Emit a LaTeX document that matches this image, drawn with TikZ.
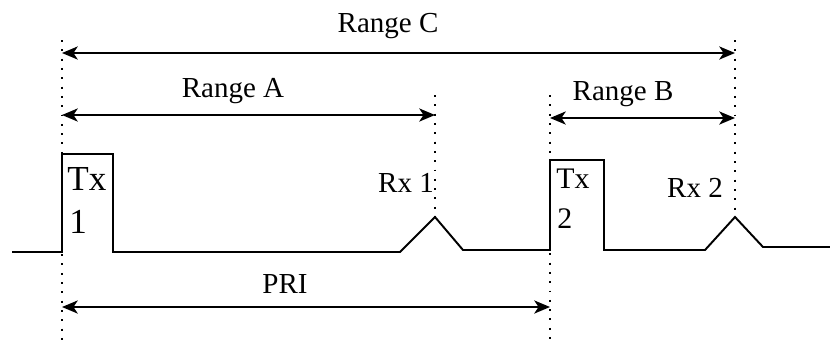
\documentclass[tikz,border=0pt]{standalone}
\usepackage{fontspec}
\setmainfont{Liberation Serif}
\usetikzlibrary{arrows.meta}

\tikzset{
  pulse/.style={line width=1.1pt, line join=miter},
  guide/.style={line width=1.1pt, dash pattern=on 1.1pt off 4.2pt},
  span/.style={line width=1.1pt,
    {Stealth[length=9pt,width=7.5pt,inset=2.5pt]}-{Stealth[length=9pt,width=7.5pt,inset=2.5pt]}},
  lbl/.style={font=\fontsize{16.5}{18}\selectfont, inner sep=0pt, anchor=base},
  txlbl/.style={font=\fontsize{20}{22}\selectfont, inner sep=0pt, anchor=base west}
}

\begin{document}
\begin{tikzpicture}[x=0.02cm,y=-0.02cm]
\useasboundingbox (0,0) rectangle (830,343);

% linhas de referencia
\coordinate (tx1top) at (62,40);   \coordinate (tx1bot) at (62,340);
\coordinate (rx1top) at (435,95);  \coordinate (rx1bot) at (435,217);
\coordinate (tx2top) at (550,95);  \coordinate (tx2bot) at (550,340);
\coordinate (rx2top) at (735,40);  \coordinate (rx2bot) at (735,217);
\foreach \g in {tx1,rx1,tx2,rx2}
{
    \draw[guide] (\g top) -- (\g bot);
}

% sinal
\draw[pulse] (12,252) -- (62,252) -- (62,154) -- (113,154) -- (113,252)
  -- (400,252) -- (435,217) -- (463,250) -- (550,250) -- (550,160)
  -- (604,160) -- (604,250) -- (705,250) -- (735,217) -- (763,247) -- (830,247);

% Range C
\coordinate (cL) at (62,53);  \coordinate (cR) at (735,53);
\draw[span] (cL) -- (cR);
\node[lbl] (rangeC) at (388,32) {Range C};

% Range A
\coordinate (aL) at (62,115); \coordinate (aR) at (435,115);
\draw[span] (aL) -- (aR);
\node[lbl] (rangeA) at (233,97) {Range A};

% Range B
\coordinate (bL) at (550,118); \coordinate (bR) at (735,118);
\draw[span] (bL) -- (bR);
\node[lbl] (rangeB) at (623,100) {Range B};

% PRI
\coordinate (pL) at (62,307); \coordinate (pR) at (550,307);
\draw[span] (pL) -- (pR);
\node[lbl] (pri) at (285,293) {PRI};

% Tx / Rx
\node[txlbl] (tx1) at (67,190) {Tx};
\node[txlbl] (tx1n) at (69,233) {1};
\node[lbl, font=\fontsize{17}{19}\selectfont, anchor=base west] (tx2) at (556,188) {Tx};
\node[lbl, font=\fontsize{17}{19}\selectfont, anchor=base west] (tx2n) at (557,228) {2};
\node[lbl] (rx1) at (406,192) {Rx 1};
\node[lbl] (rx2) at (695,197) {Rx 2};

\end{tikzpicture}
\end{document}
